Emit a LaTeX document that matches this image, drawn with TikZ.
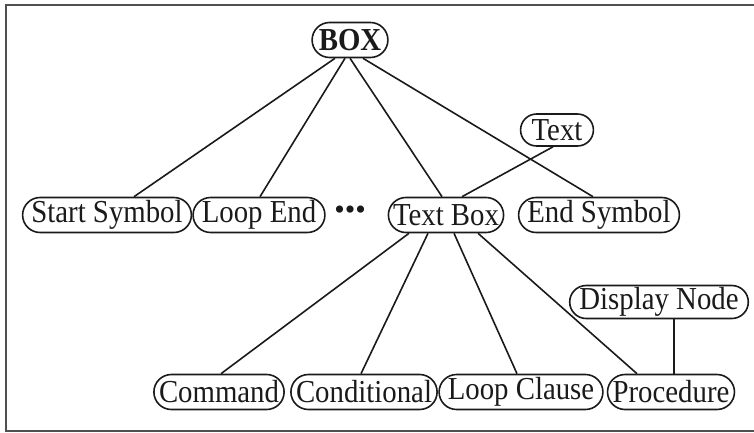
\documentclass[tikz,border=0pt]{standalone}
\usepackage{fontspec}
\setmainfont{Liberation Serif}
\newfontfamily\narrowserif{Liberation Serif}[FakeStretch=0.9]
\usetikzlibrary{shapes.misc}
\definecolor{ink}{HTML}{1A1A1A}
\definecolor{framegray}{HTML}{505050}
\tikzset{
  capsule/.style={rounded rectangle, draw=ink, line width=1.6pt, text=ink,
    inner xsep=1pt, inner ysep=0pt, minimum height=35pt,
    font=\narrowserif\fontsize{32}{34}\selectfont},
  link/.style={draw=ink, line width=1.6pt},
}
\begin{document}
\begin{tikzpicture}[x=1pt, y=-1pt]
  \useasboundingbox (0,0) rectangle (754,433);
  % open frame (no right side)
  \draw[framegray, line width=2.2pt] (754,5) -- (6,5) -- (6,431) -- (754,431);

  % root and the Text node
  \node[capsule, font=\narrowserif\fontsize{32}{34}\selectfont\bfseries,
        minimum height=35pt, inner xsep=3pt] (box) at (350,40) {BOX};
  \node[capsule, minimum height=32pt, inner xsep=7pt] (text) at (557,130) {Text};

  % first row
  \node[capsule] (start) at (107,215) {Start Symbol};
  \node[capsule] (loopend) at (259,215) {Loop End};
  \node[text=ink, font=\fontsize{30}{32}\selectfont, inner sep=0pt] (dots) at (350,213) {•••};
  \node[capsule] (textbox) at (446,215) {Text Box};
  \node[capsule] (endsym) at (599,215) {End Symbol};

  % display node
  \node[capsule, minimum height=33pt] (display) at (659,302) {Display Node};

  % bottom row
  \node[capsule] (command) at (219,392) {Command};
  \node[capsule] (cond) at (364,392) {Conditional};
  \node[capsule] (loopcl) at (521,392) {Loop Clause};
  \node[capsule] (proc) at (671,392) {Procedure};

  % connectors from the root
  \draw[link] ([xshift=-15pt]box.south) -- ([xshift=27pt]start.north);
  \draw[link] ([xshift=-5pt]box.south) -- ([xshift=1pt]loopend.north);
  \draw[link] (box.south) -- ([xshift=-4pt]textbox.north);
  \draw[link] ([xshift=13pt]box.south) -- ([xshift=-6pt]endsym.north);
  \draw[link] ([xshift=-4pt]text.south) -- ([xshift=16pt]textbox.north);

  % connectors below the text box
  \draw[link] ([xshift=-37pt]textbox.south) -- ([xshift=2pt]command.north);
  \draw[link] ([xshift=-18pt]textbox.south) -- ([xshift=-3pt]cond.north);
  \draw[link] ([xshift=8pt]textbox.south) -- ([xshift=-4pt]loopcl.north);
  \draw[link] ([xshift=32pt]textbox.south) -- ([xshift=-34pt]proc.north);
  \draw[link] ([xshift=15pt]display.south) -- ([xshift=3pt]proc.north);
\end{tikzpicture}
\end{document}
